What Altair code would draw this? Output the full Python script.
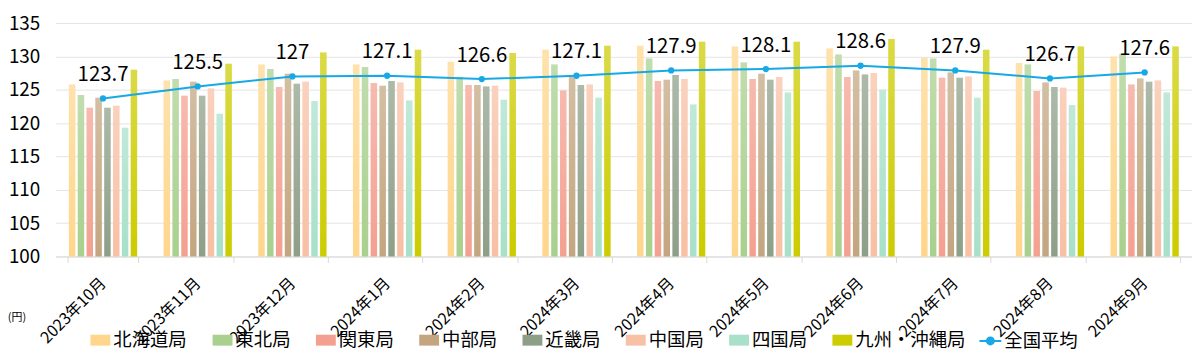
import altair as alt
import pandas as pd

FONT = "Noto Sans CJK JP"

months = ["2023年10月", "2023年11月", "2023年12月", "2024年1月", "2024年2月", "2024年3月",
          "2024年4月", "2024年5月", "2024年6月", "2024年7月", "2024年8月", "2024年9月"]
regions = ["北海道局", "東北局", "関東局", "中部局", "近畿局", "中国局", "四国局", "九州・沖縄局"]
region_colors = ["#FFD68C", "#A9D08E", "#F4A090", "#C3A680", "#8E9F88", "#F8C0A4", "#A8E0C9", "#CCCC00"]

hokkaido = [125.8, 126.4, 128.8, 128.8, 129.2, 131.0, 131.6, 131.5, 131.2, 129.8, 129.0, 130.0]
tohoku   = [124.2, 126.6, 128.1, 128.4, 126.9, 128.8, 129.7, 129.1, 130.3, 129.7, 128.8, 130.4]
kanto    = [122.3, 124.1, 125.4, 126.0, 125.7, 124.9, 126.3, 126.6, 126.9, 126.8, 124.8, 125.8]
chubu    = [123.8, 126.2, 127.4, 125.6, 125.7, 126.9, 126.5, 127.4, 127.9, 127.6, 126.1, 126.7]
kinki    = [122.3, 124.1, 125.9, 126.3, 125.5, 125.7, 127.2, 126.5, 127.3, 126.8, 125.4, 126.2]
chugoku  = [122.6, 125.2, 126.2, 126.1, 125.6, 125.8, 126.6, 126.9, 127.5, 127.0, 125.3, 126.4]
shikoku  = [119.3, 121.4, 123.3, 123.4, 123.5, 123.8, 122.8, 124.6, 125.0, 123.8, 122.7, 124.6]
kyushu   = [128.0, 128.9, 130.6, 131.0, 130.5, 131.6, 132.2, 132.2, 132.6, 131.0, 131.5, 131.5]

national_name = "全国平均"
national = [123.7, 125.5, 127, 127.1, 126.6, 127.1, 127.9, 128.1, 128.6, 127.9, 126.7, 127.6]
line_color = "#17A9E6"

y_ticks = [100, 105, 110, 115, 120, 125, 130, 135]
unit_label = "(円)"

series = [hokkaido, tohoku, kanto, chubu, kinki, chugoku, shikoku, kyushu]
rows = []
for reg, vals in zip(regions, series):
    for m, v in zip(months, vals):
        rows.append({"month": m, "region": reg, "value": v})
bars_df = pd.DataFrame(rows)

nat_df = pd.DataFrame({
    "month": months,
    "value": national,
    "series": [national_name] * len(months),
    "label": [("%g" % v) for v in national],
})
unit_df = pd.DataFrame({"t": [unit_label]})

x_enc = alt.X(
    "month:N", sort=months,
    scale=alt.Scale(paddingInner=0.254, paddingOuter=0.127),
    axis=alt.Axis(
        title=None, labelAngle=-45, labelAlign="right", labelBaseline="middle",
        labelFontSize=16, labelFont=FONT, labelColor="black", labelPadding=18,
        tickBand="extent", tickSize=6, tickColor="#D9D9D9", domainColor="#D9D9D9",
        grid=False, labelOverlap=False,
    ),
)
y_enc = alt.Y(
    "value:Q",
    scale=alt.Scale(domain=[100, 135], zero=False, nice=False),
    axis=alt.Axis(
        title=None, values=y_ticks, labelFontSize=19, labelFont=FONT, labelColor="black",
        labelPadding=16, ticks=False, domain=False, gridColor="#E4E4E4", gridWidth=1,
    ),
)
xoff = alt.XOffset("region:N", sort=regions, scale=alt.Scale(paddingInner=0.27, paddingOuter=0.135))

bars = alt.Chart(bars_df).mark_bar().encode(
    x=x_enc, xOffset=xoff, y=y_enc, y2=alt.datum(100),
    color=alt.Color(
        "region:N", sort=regions,
        scale=alt.Scale(domain=regions, range=region_colors),
        legend=alt.Legend(
            title=None, orient="none", legendX=35, legendY=309, direction="horizontal",
            columns=8, columnPadding=25, symbolType="M-1,-0.55H1V0.55H-1Z", symbolSize=400,
            symbolStrokeWidth=0, labelFontSize=18.5, labelFont=FONT, labelColor="black",
            labelOffset=3, padding=0, labelLimit=300,
        ),
    ),
)

shine = alt.Chart(bars_df).mark_bar(
    color=alt.LinearGradient(
        gradient="linear", x1=0, x2=0, y1=0, y2=1,
        stops=[alt.GradientStop(color="rgba(255,255,255,0.28)", offset=0),
               alt.GradientStop(color="rgba(255,255,255,0)", offset=1)],
    )
).encode(x=x_enc, xOffset=xoff, y=y_enc, y2=alt.datum(100))

line = alt.Chart(nat_df).mark_line(strokeWidth=2).encode(
    x=x_enc, y=y_enc,
    color=alt.Color(
        "series:N",
        scale=alt.Scale(domain=[national_name], range=[line_color]),
        legend=alt.Legend(
            title=None, orient="none", legendX=929, legendY=308,
            symbolType="M-1,0H1M-0.32,0A0.32,0.32,0,1,1,0.32,0A0.32,0.32,0,1,1,-0.32,0Z",
            symbolSize=484, symbolStrokeWidth=2, symbolFillColor=line_color,
            labelFontSize=18.5, labelFont=FONT, labelColor="black", labelOffset=2,
            padding=0, labelLimit=300,
        ),
    ),
)

pts = alt.Chart(nat_df).mark_circle(size=40, opacity=1, color=line_color).encode(x=x_enc, y=y_enc)

labels = alt.Chart(nat_df).mark_text(
    dy=-17.5, fontSize=20.5, font=FONT, color="black", baseline="alphabetic", align="center"
).encode(x=x_enc, y=y_enc, text="label:N")

unit = alt.Chart(unit_df).mark_text(fontSize=11, font=FONT, color="black", align="center",
                                    baseline="middle").encode(
    x=alt.value(-39), y=alt.value(297), text="t:N"
)

chart = alt.layer(bars, shine, line, pts, labels, unit).resolve_scale(
    color="independent"
).properties(
    width=1144, height=235,
    autosize=alt.AutoSizeParams(type="none"),
    padding={"left": 48, "top": 14, "right": 0, "bottom": 96},
).configure_view(stroke=None)

chart.save("out.html", embed_options={"renderer": "svg", "actions": False})
